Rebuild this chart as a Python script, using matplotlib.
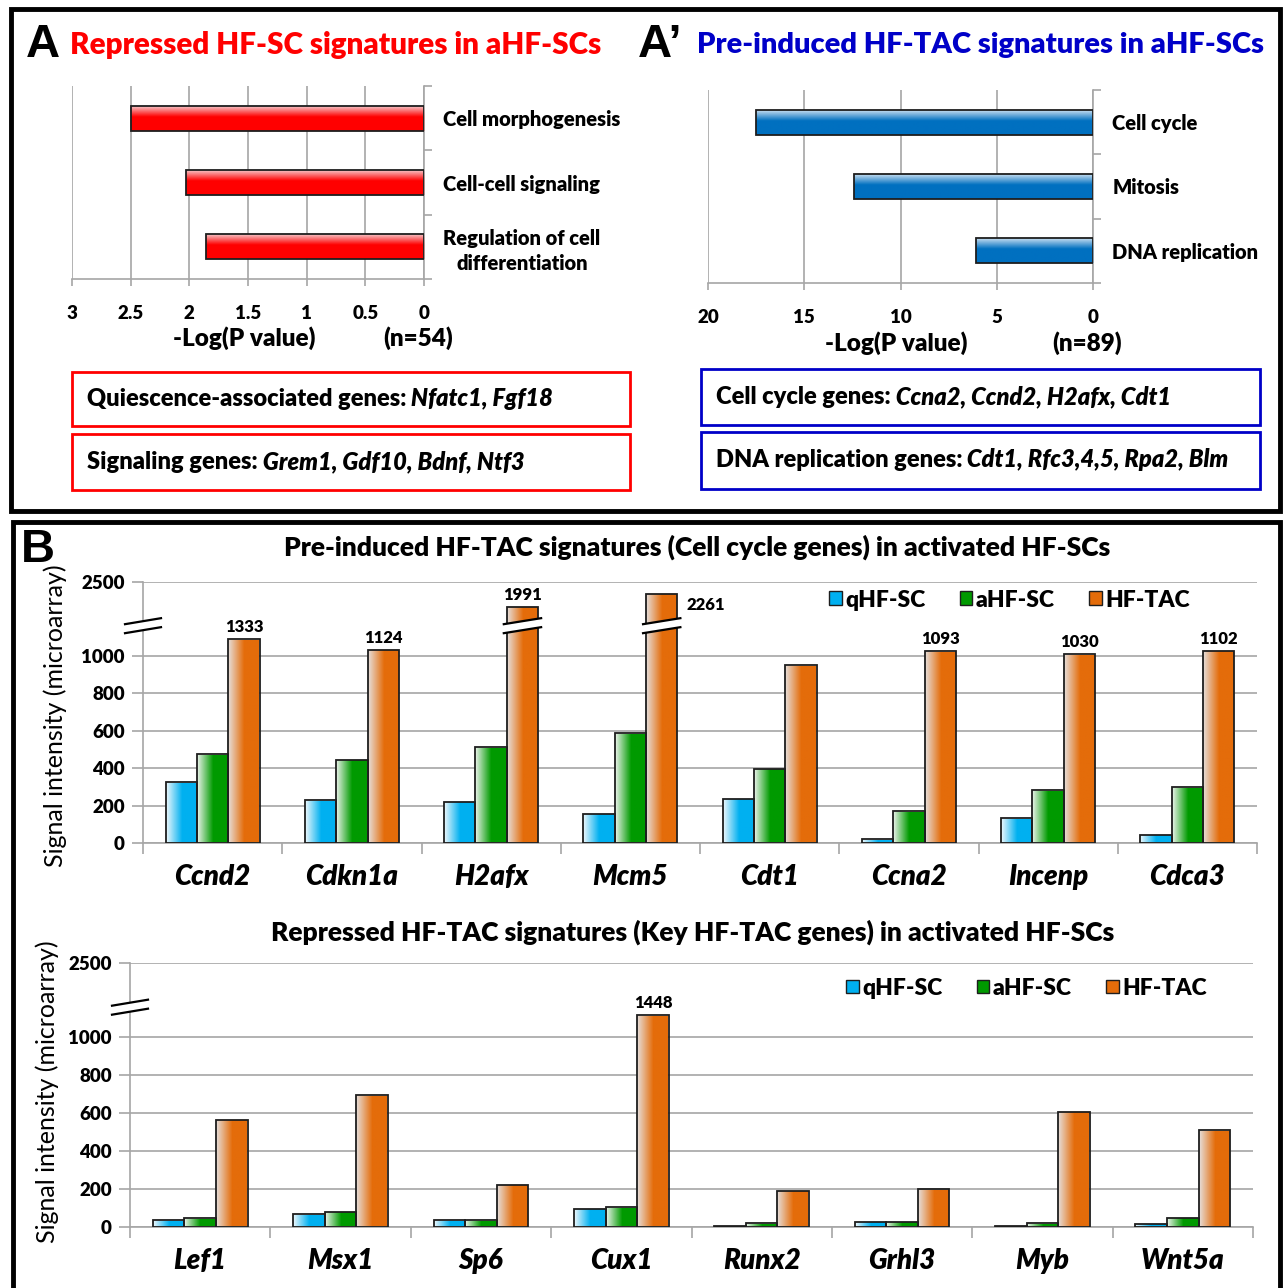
import numpy as np
import matplotlib
matplotlib.use('Agg')
import matplotlib.pyplot as plt
from matplotlib.colors import LinearSegmentedColormap
from matplotlib.patches import Rectangle, Patch, Polygon
from matplotlib.lines import Line2D
from matplotlib.ticker import FormatStrFormatter, NullLocator
from matplotlib.transforms import IdentityTransform

plt.rcParams['font.family'] = ['Lato', 'DejaVu Sans']
plt.rcParams['font.weight'] = 'heavy'

# GO terms and -Log(P value), panels A and A'
rep_terms = ['Cell morphogenesis', 'Cell-cell signaling', 'Regulation of cell\ndifferentiation']
rep_logp = [2.50, 2.03, 1.86]
ind_terms = ['Cell cycle', 'Mitosis', 'DNA replication']
ind_logp = [17.5, 12.4, 6.1]

# microarray signal, panel B (top: cell cycle genes)
cycle_genes = ['Ccnd2', 'Cdkn1a', 'H2afx', 'Mcm5', 'Cdt1', 'Ccna2', 'Incenp', 'Cdca3']
cycle_q = [325, 227, 220, 155, 235, 21, 133, 44]
cycle_a = [473, 444, 510, 585, 395, 169, 281, 297]
cycle_tac = [1333, 1124, 1991, 2261, 949, 1093, 1030, 1102]

# panel B (bottom: key HF-TAC genes)
key_genes = ['Lef1', 'Msx1', 'Sp6', 'Cux1', 'Runx2', 'Grhl3', 'Myb', 'Wnt5a']
key_q = [36, 68, 36, 96, 7, 29, 7, 16]
key_a = [45, 80, 36, 103, 21, 29, 21, 50]
key_tac = [565, 696, 222, 1448, 192, 199, 607, 511]

populations = ['qHF-SC', 'aHF-SC', 'HF-TAC']
signal_ticks = [0, 200, 400, 600, 800, 1000, 2500]

W, H = 1283, 1288
fig = plt.figure(figsize=(W / 100, H / 100), dpi=100)

GRID = '#a6a6a6'
EDGE = '#1e1e1e'
RED = '#ff0000'
BLUE = '#0000c8'


def fx(x):
    return x / W


def fy(y):
    return 1 - y / H


def axes_at(left, top, right, bottom):
    return fig.add_axes([fx(left), fy(bottom), (right - left) / W, (bottom - top) / H])


def ramp(light, solid, split=0.5):
    return LinearSegmentedColormap.from_list('', [(0, light), (split, solid), (1, solid)])


def shade(ax, bar, cmap, vertical=False):
    # gradient fill clipped to the bar rectangle
    x0, y0 = bar.get_x(), bar.get_y()
    w, h = bar.get_width(), bar.get_height()
    g = np.linspace(0, 1, 128)
    if vertical:
        img, ext = g[:, None], (x0, x0 + w, y0 + h, y0)
    else:
        img, ext = g[None, :], (x0, x0 + w, y0, y0 + h)
    im = ax.imshow(img, cmap=cmap, extent=ext, origin='upper', aspect='auto',
                   interpolation='bilinear', zorder=2)
    im.set_clip_path(bar)


def break_mark(ax, x, val, half):
    cx, cy = ax.transData.transform((x, val))
    up = [(cx - half, cy + 2), (cx + half, cy + 8)]
    lo = [(cx - half, cy - 7), (cx + half, cy - 1)]
    fig.add_artist(Polygon(up + lo[::-1], closed=True, fc='white', ec='none',
                           transform=IdentityTransform(), zorder=5))
    for seg in (up, lo):
        xs, ys = zip(*seg)
        fig.add_artist(Line2D(xs, ys, color='black', lw=1.6,
                              transform=IdentityTransform(), zorder=6))


# panel frames
fig.add_artist(Rectangle((fx(11), fy(511)), (1280 - 11) / W, (511 - 9) / H, fill=False,
                         lw=3.5, ec='black', transform=fig.transFigure))
fig.add_artist(Rectangle((fx(13), fy(1310)), (1280 - 13) / W, (1310 - 522) / H, fill=False,
                         lw=3.5, ec='black', transform=fig.transFigure, clip_on=False))

letter = dict(family='Liberation Sans', fontsize=34, fontweight='bold', va='center')
fig.text(fx(26), fy(45), 'A', ha='left', **letter)
fig.text(fx(638), fy(45), 'A\u2019', ha='left', **letter)
fig.text(fx(21), fy(550), 'B', ha='left', **letter)

fig.text(fx(70), fy(45), 'Repressed HF-SC signatures in aHF-SCs', color=RED,
         fontsize=21.3, va='center', ha='left')
fig.text(fx(697), fy(45), 'Pre-induced HF-TAC signatures in aHF-SCs', color=BLUE,
         fontsize=21.0, va='center', ha='left')


def go_panel(box, terms, vals, xmax, step, cmap, n_label, xlab_y):
    ax = axes_at(*box)
    y = np.arange(len(terms))
    bars = ax.barh(y, vals, height=0.39, fc='none', ec=EDGE, lw=1.3, zorder=3)
    for b in bars:
        shade(ax, b, cmap, vertical=True)
    ax.set_xlim(xmax, 0)
    ax.set_ylim(len(terms) - 0.5, -0.5)
    ax.set_xticks(np.arange(0, xmax + step / 2, step))
    ax.xaxis.set_major_formatter(FormatStrFormatter('%g'))
    ax.grid(axis='x', color=GRID, lw=1.2)
    ax.set_axisbelow(True)
    ax.yaxis.tick_right()
    ax.set_yticks(y)
    ax.set_yticklabels(terms)
    for t in ax.get_yticklabels():
        t.set_multialignment('center')
        t.set_linespacing(1.35)
    ax.set_yticks(np.arange(-0.5, len(terms)), minor=True)
    ax.tick_params(axis='y', which='major', length=0, pad=14, labelsize=14.5)
    ax.tick_params(axis='y', which='minor', length=6, color=GRID, width=1.2)
    ax.tick_params(axis='x', length=5, color=GRID, width=1.2, pad=14, labelsize=13.5)
    for s in ('top', 'left'):
        ax.spines[s].set_visible(False)
    for s in ('right', 'bottom'):
        ax.spines[s].set_color(GRID)
        ax.spines[s].set_linewidth(1.2)
    l, t, r, b = box
    fig.text(fx((l + r) / 2 - 4), fy(xlab_y), '-Log(P value)', fontsize=17.5, ha='center', va='center')
    fig.text(fx(r - 6), fy(xlab_y), n_label, fontsize=17.5, ha='center', va='center')
    return ax


go_panel((72, 86, 424, 279), rep_terms, rep_logp, 3, 0.5,
         ramp('#f6d9dc', RED, 0.45), '(n=54)', 338)
go_panel((708, 90, 1093, 283), ind_terms, ind_logp, 20, 5,
         ramp('#dce9f6', '#0070c0', 0.45), '(n=89)', 343)

# gene list boxes
gene_boxes = [
    ((72, 372, 630, 426), RED, 'Quiescence-associated genes:', ' Nfatc1, Fgf18'),
    ((72, 434, 630, 490), RED, 'Signaling genes:', ' Grem1, Gdf10, Bdnf, Ntf3'),
    ((701, 369, 1260, 425), BLUE, 'Cell cycle genes:', ' Ccna2, Ccnd2, H2afx, Cdt1'),
    ((701, 432, 1260, 489), BLUE, 'DNA replication genes:', ' Cdt1, Rfc3,4,5, Rpa2, Blm'),
]
for (l, t, r, b), col, head, genes in gene_boxes:
    fig.add_artist(Rectangle((fx(l), fy(b)), (r - l) / W, (b - t) / H, fill=False,
                             lw=2, ec=col, transform=fig.transFigure))
    first = fig.text(fx(l + 15), fy((t + b) / 2), head, fontsize=17, ha='left', va='center')
    plt.annotate(genes, xy=(1, 0), xycoords=first, fontsize=17, style='italic',
                 ha='left', va='bottom')

# broken signal axis
SQUEEZE = 0.262
BREAK_AT = 1600


def fwd(v):
    v = np.asarray(v, float)
    return np.where(v <= 1000, v, 1000 + (v - 1000) * SQUEEZE)


def inv(u):
    u = np.asarray(u, float)
    return np.where(u <= 1000, u, 1000 + (u - 1000) / SQUEEZE)


pop_colors = ['#00b0f0', '#009a00', '#e46c0a']
pop_ramps = [ramp('#e8f6fc', '#00b0f0'), ramp('#e6f1e6', '#009a00'), ramp('#e6dcd6', '#e46c0a')]


def signal_panel(box, genes, series, title, title_xy, ylab_xy, leg_anchor):
    ax = axes_at(*box)
    ax.set_yscale('function', functions=(fwd, inv))
    x = np.arange(len(genes))
    w = 0.225
    bar_px = w * (box[2] - box[0]) / len(genes)
    for k, (vals, cm) in enumerate(zip(series, pop_ramps)):
        bars = ax.bar(x + (k - 1) * w, vals, w, fc='none', ec=EDGE, lw=1.3, zorder=3)
        for b in bars:
            shade(ax, b, cm)
    ax.set_xlim(-0.5, len(genes) - 0.5)
    ax.set_ylim(0, 2500)
    ax.set_yticks(signal_ticks)
    ax.yaxis.set_major_formatter(FormatStrFormatter('%d'))
    ax.yaxis.set_minor_locator(NullLocator())
    ax.set_xticks(x)
    ax.set_xticklabels(genes, style='italic', fontsize=20)
    ax.set_xticks(np.arange(-0.5, len(genes)), minor=True)
    ax.tick_params(axis='x', which='major', length=0, pad=15)
    ax.tick_params(axis='x', which='minor', length=8, color=GRID, width=1.2)
    ax.tick_params(axis='y', length=8, color=GRID, width=1.2, labelsize=13.5, pad=5)
    ax.grid(axis='y', color=GRID, lw=1.2)
    ax.set_axisbelow(True)
    for s in ('top', 'right'):
        ax.spines[s].set_visible(False)
    for s in ('left', 'bottom'):
        ax.spines[s].set_color(GRID)
        ax.spines[s].set_linewidth(1.2)

    tac = series[2]
    for xi, v in zip(x, tac):
        if v <= 1000:
            continue
        if fwd(v) > 1300:
            ax.annotate(str(v), (xi + w + w / 2, v), xytext=(9, -11), textcoords='offset pixels',
                        fontsize=12, ha='left', va='center')
        else:
            ax.annotate(str(v), (xi + w, v), xytext=(0, 4), textcoords='offset pixels',
                        fontsize=12, ha='center', va='bottom')

    handles = [Patch(fc=c, ec=EDGE, lw=1) for c in pop_colors]
    ax.legend(handles, populations, ncol=3, loc='center left', bbox_to_anchor=leg_anchor,
              frameon=False, fontsize=16.5, handlelength=0.55, handleheight=0.55,
              handletextpad=0.15, columnspacing=1.5, borderpad=0, borderaxespad=0)

    fig.text(fx(title_xy[0]), fy(title_xy[1]), title, fontsize=19, ha='center', va='center')
    fig.text(fx(ylab_xy[0]), fy(ylab_xy[1]), 'Signal intensity (microarray)', fontsize=18,
             fontweight='normal', rotation=90, ha='center', va='center')

    # break marks on the axis and on bars that run past it
    break_mark(ax, -0.5, BREAK_AT, 18)
    for xi, v in zip(x, tac):
        if v > BREAK_AT:
            break_mark(ax, xi + w, BREAK_AT, bar_px / 2 + 3)
    return ax


signal_panel((143, 582, 1257, 843), cycle_genes, [cycle_q, cycle_a, cycle_tac],
             'Pre-induced HF-TAC signatures (Cell cycle genes) in activated HF-SCs',
             (697, 547), (55, 716), (0.616, 0.931))
signal_panel((130, 963, 1253, 1227), key_genes, [key_q, key_a, key_tac],
             'Repressed HF-TAC signatures (Key HF-TAC genes) in activated HF-SCs',
             (693, 932), (47, 1092), (0.6376, 0.905))

fig.savefig('out.png', dpi=100)
